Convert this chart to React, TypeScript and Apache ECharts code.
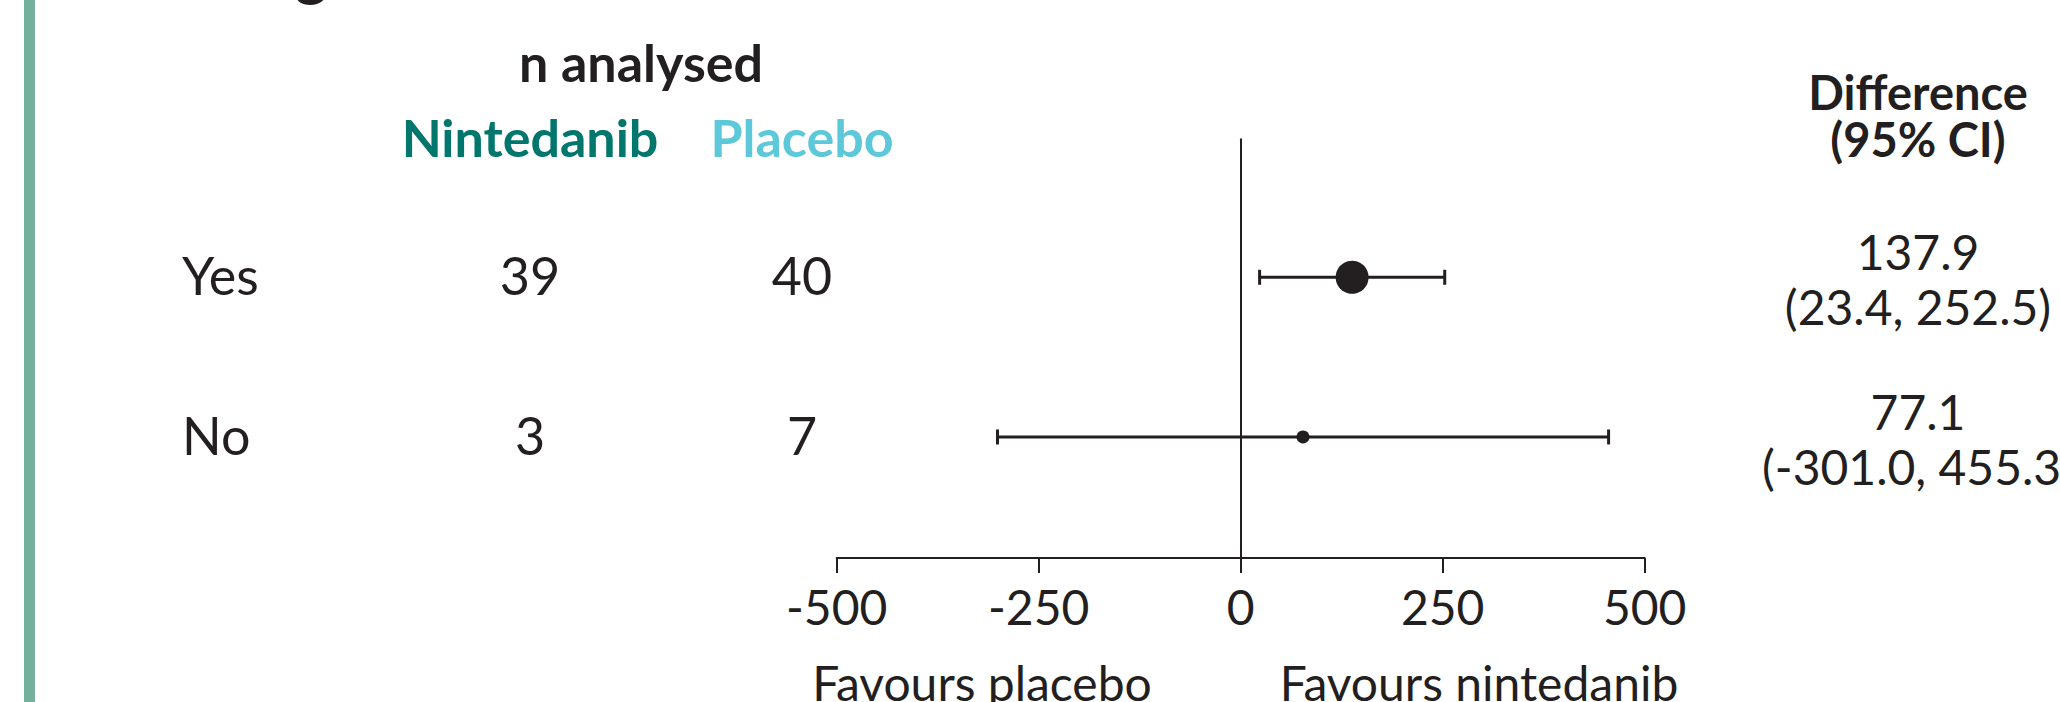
import React, { useEffect, useRef } from "react";
import * as echarts from "echarts";

// Subgroup rows of the forest plot
const subgroups = ["Yes", "No"];
const nNintedanib = [39, 3];
const nPlacebo = [40, 7];
const difference = [137.9, 77.1];
const ciLower = [23.4, -301.0];
const ciUpper = [252.5, 455.3];
const xTicks = [-500, -250, 0, 250, 500];

// Point marker radius per row (weight of the estimate)
const markerRadius = [16.5, 6.5];

const INK = "#231f20";
const TEAL = "#00766c";
const CYAN = "#5cc8da";
const BAR = "#74b09b";
const FONT = "Lato, 'Noto Sans', sans-serif";

const fmt = (v: number) => v.toFixed(1);

export default function App() {
  const ref = useRef<HTMLDivElement>(null);

  useEffect(() => {
    if (!ref.current) return;
    const chart = echarts.init(ref.current, undefined, { renderer: "svg" });

    const forestData = difference.map((d, i) => [d, i, ciLower[i], ciUpper[i]]);
    const tableData = subgroups.map((_, i) => [0, i]);

    const headerText = (text: string, x: number, y: number, fill: string, fontSize: number, bold = true) => ({
      type: "text",
      x,
      y,
      style: {
        text,
        fontSize,
        fontWeight: bold ? "bold" : "normal",
        fontFamily: FONT,
        fill,
        align: "center",
        verticalAlign: "middle",
      },
    });

    const option: any = {
      animation: false,
      grid: { left: 836.7, right: 415.3, top: 139.3, bottom: 144, containLabel: false },
      xAxis: {
        type: "value",
        min: xTicks[0],
        max: xTicks[xTicks.length - 1],
        interval: xTicks[1] - xTicks[0],
        position: "bottom",
        axisLine: { show: true, onZero: false, lineStyle: { color: INK, width: 2 } },
        axisTick: { show: true, length: 15, lineStyle: { color: INK, width: 2 } },
        axisLabel: {
          show: true,
          margin: 24,
          color: INK,
          fontSize: 48,
          fontFamily: FONT,
        },
        splitLine: { show: false },
      },
      yAxis: {
        type: "value",
        inverse: true,
        min: -0.864,
        max: 1.758,
        axisLine: { show: true, onZero: true, lineStyle: { color: INK, width: 2 } },
        axisTick: { show: false },
        axisLabel: { show: false },
        splitLine: { show: false },
      },
      graphic: [
        { type: "rect", shape: { x: 24, y: 0, width: 11, height: 702 }, style: { fill: BAR } },
        headerText("g", 311, -29, INK, 60),
        headerText("n analysed", 641, 62, INK, 52),
        headerText("Nintedanib", 530, 137, TEAL, 52),
        headerText("Placebo", 802, 137, CYAN, 52),
        headerText("Difference", 1918, 91.5, INK, 47),
        headerText("(95% CI)", 1918, 138.5, INK, 47),
        headerText("Favours placebo", 982, 682.5, INK, 48, false),
        headerText("Favours nintedanib", 1479, 682.5, INK, 48, false),
      ],
      series: [
        {
          // Row labels, group sizes and the estimate text, placed on each row's y
          type: "custom",
          clip: false,
          silent: true,
          data: tableData,
          encode: { x: 0, y: 1 },
          renderItem: (params: any, api: any) => {
            const i = params.dataIndex;
            const y = api.coord([0, api.value(1)])[1];
            const base = { fontSize: 52, fontFamily: FONT, fill: INK, verticalAlign: "middle" };
            return {
              type: "group",
              children: [
                { type: "text", x: 182, y: y - 2, style: { ...base, text: subgroups[i], align: "left" } },
                { type: "text", x: 530, y: y - 2, style: { ...base, text: String(nNintedanib[i]), align: "center" } },
                { type: "text", x: 802, y: y - 2, style: { ...base, text: String(nPlacebo[i]), align: "center" } },
                {
                  type: "text", x: 1918, y: y + 1.6,
                  style: {
                    text: `${fmt(difference[i])}\n(${fmt(ciLower[i])}, ${fmt(ciUpper[i])})`,
                    fontSize: 48, lineHeight: 55, fontFamily: FONT, fill: INK,
                    align: "center", verticalAlign: "middle",
                  },
                },
              ],
            };
          },
        },
        {
          // Confidence interval whiskers with the point estimate
          type: "custom",
          clip: false,
          silent: true,
          data: forestData,
          encode: { x: [0, 2, 3], y: 1 },
          renderItem: (params: any, api: any) => {
            const row = api.value(1);
            const [cx, cy] = api.coord([api.value(0), row]);
            const lo = api.coord([api.value(2), row])[0];
            const hi = api.coord([api.value(3), row])[0];
            const cap = 7.5;
            const stroke = { stroke: INK, lineWidth: 3 };
            return {
              type: "group",
              children: [
                { type: "line", shape: { x1: lo, y1: cy, x2: hi, y2: cy }, style: stroke },
                { type: "line", shape: { x1: lo, y1: cy - cap, x2: lo, y2: cy + cap }, style: stroke },
                { type: "line", shape: { x1: hi, y1: cy - cap, x2: hi, y2: cy + cap }, style: stroke },
                { type: "circle", shape: { cx, cy, r: markerRadius[params.dataIndex] }, style: { fill: INK } },
              ],
            };
          },
        },
      ],
    };

    chart.setOption(option);
    return () => chart.dispose();
  }, []);

  return (
    <div
      ref={ref}
      style={{ position: "fixed", left: 0, top: 0, width: 2060, height: 702, background: "#ffffff" }}
    />
  );
}
